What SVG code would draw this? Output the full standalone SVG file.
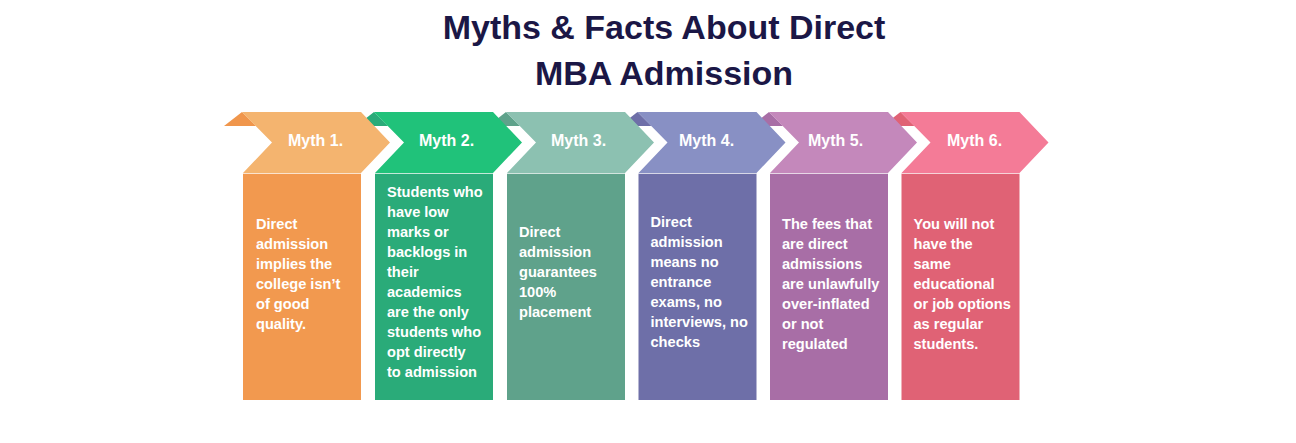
<svg xmlns="http://www.w3.org/2000/svg" width="1296" height="443" viewBox="0 0 1296 443">
<style>
  .title{font-family:"Liberation Sans",Arial,sans-serif;font-weight:bold;font-size:34px;fill:#1B1746;text-anchor:middle}
  .lbl{font-family:"Liberation Sans",Arial,sans-serif;font-weight:bold;font-size:16px;fill:#FFFFFF}
  .body{font-family:"Liberation Sans",Arial,sans-serif;font-weight:bold;font-size:14.6px;fill:#FFFFFF}
  .sep{stroke:#FFFFFF;stroke-opacity:0.45;stroke-width:1}
</style>
<defs>
  <polygon id="chev" points="-1,112 118,112 147,142.5 118,173 0,173 29,142.5"/>
  <polygon id="fold" points="-19,126 -1,112 13,126"/>
  <rect id="box" x="0" y="173.5" width="118" height="226.5"/>
</defs>
<rect width="1296" height="443" fill="#FFFFFF"/>
<g id="title">
  <text class="title" x="664" y="39">Myths &amp; Facts About Direct</text>
  <text class="title" x="664" y="85">MBA Admission</text>
</g>
<g id="connectors"></g>
<!-- drawn right-to-left so each chevron sits over the next one's folded corner -->
<g id="myth6" transform="translate(901.5,0)">
  <use href="#fold" fill="#E06275"/>
  <use href="#chev" fill="#F47B97"/>
  <use href="#box" fill="#E06275"/>
  <line class="sep" x1="0" y1="173.5" x2="118" y2="173.5"/>
  <text class="lbl" x="45.5" y="146">Myth 6.</text>
  <text class="body" x="12"><tspan x="12" y="228.5">You will not</tspan><tspan x="12" y="248.5">have the</tspan><tspan x="12" y="268.5">same</tspan><tspan x="12" y="288.5">educational</tspan><tspan x="12" y="308.5">or job options</tspan><tspan x="12" y="328.5">as regular</tspan><tspan x="12" y="348.5">students.</tspan></text>
</g>
<g id="myth5" transform="translate(770,0)">
  <use href="#fold" fill="#A86EA6"/>
  <use href="#chev" fill="#C488BB"/>
  <use href="#box" fill="#A86EA6"/>
  <line class="sep" x1="0" y1="173.5" x2="118" y2="173.5"/>
  <text class="lbl" x="38" y="146">Myth 5.</text>
  <text class="body" x="12"><tspan x="12" y="228.5">The fees that</tspan><tspan x="12" y="248.5">are direct</tspan><tspan x="12" y="268.5">admissions</tspan><tspan x="12" y="288.5">are unlawfully</tspan><tspan x="12" y="308.5">over-inflated</tspan><tspan x="12" y="328.5">or not</tspan><tspan x="12" y="348.5">regulated</tspan></text>
</g>
<g id="myth4" transform="translate(638.5,0)">
  <use href="#fold" fill="#6E6FA8"/>
  <use href="#chev" fill="#8890C4"/>
  <use href="#box" fill="#6E6FA8"/>
  <line class="sep" x1="0" y1="173.5" x2="118" y2="173.5"/>
  <text class="lbl" x="40.5" y="146">Myth 4.</text>
  <text class="body" x="12"><tspan x="12" y="226.5">Direct</tspan><tspan x="12" y="246.5">admission</tspan><tspan x="12" y="266.5">means no</tspan><tspan x="12" y="286.5">entrance</tspan><tspan x="12" y="306.5">exams, no</tspan><tspan x="12" y="326.5">interviews, no</tspan><tspan x="12" y="346.5">checks</tspan></text>
</g>
<g id="myth3" transform="translate(507,0)">
  <use href="#fold" fill="#5FA28B"/>
  <use href="#chev" fill="#8CC1B1"/>
  <use href="#box" fill="#5FA28B"/>
  <line class="sep" x1="0" y1="173.5" x2="118" y2="173.5"/>
  <text class="lbl" x="44" y="146">Myth 3.</text>
  <text class="body" x="12"><tspan x="12" y="236.5">Direct</tspan><tspan x="12" y="256.5">admission</tspan><tspan x="12" y="276.5">guarantees</tspan><tspan x="12" y="296.5">100%</tspan><tspan x="12" y="316.5">placement</tspan></text>
</g>
<g id="myth2" transform="translate(375,0)">
  <use href="#fold" fill="#2AAB79"/>
  <use href="#chev" fill="#20C27A"/>
  <use href="#box" fill="#2AAB79"/>
  <line class="sep" x1="0" y1="173.5" x2="118" y2="173.5"/>
  <text class="lbl" x="44" y="146">Myth 2.</text>
  <text class="body" x="12"><tspan x="12" y="196.5">Students who</tspan><tspan x="12" y="216.5">have low</tspan><tspan x="12" y="236.5">marks or</tspan><tspan x="12" y="256.5">backlogs in</tspan><tspan x="12" y="276.5">their</tspan><tspan x="12" y="296.5">academics</tspan><tspan x="12" y="316.5">are the only</tspan><tspan x="12" y="336.5">students who</tspan><tspan x="12" y="356.5">opt directly</tspan><tspan x="12" y="376.5">to admission</tspan></text>
</g>
<g id="myth1" transform="translate(243,0)">
  <use href="#fold" fill="#F0964C"/>
  <use href="#chev" fill="#F4B46F"/>
  <use href="#box" fill="#F2994F"/>
  <line class="sep" x1="0" y1="173.5" x2="118" y2="173.5"/>
  <text class="lbl" x="45" y="146">Myth 1.</text>
  <text class="body" x="13"><tspan x="13" y="228.5">Direct</tspan><tspan x="13" y="248.5">admission</tspan><tspan x="13" y="268.5">implies the</tspan><tspan x="13" y="288.5">college isn’t</tspan><tspan x="13" y="308.5">of good</tspan><tspan x="13" y="328.5">quality.</tspan></text>
</g>
</svg>
